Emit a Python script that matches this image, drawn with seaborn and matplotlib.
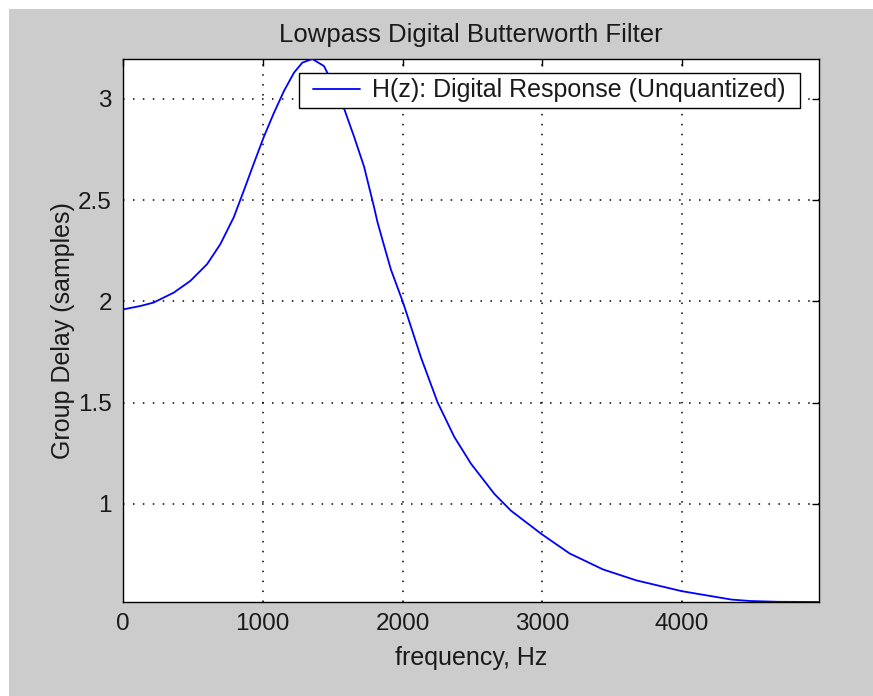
import numpy as np
import pandas as pd
import seaborn as sns
import matplotlib
matplotlib.use("Agg")
import matplotlib.pyplot as plt
from matplotlib.patches import Rectangle
from matplotlib.path import Path

# Group delay of the lowpass Butterworth design, sampled along frequency (Hz)
freq_hz = [0, 124, 219, 363, 482, 602, 697, 793, 865, 936, 1008, 1080, 1151,
           1223, 1283, 1355, 1438, 1462, 1585, 1653, 1725, 1796, 1821, 1857,
           1916, 2004, 2131, 2251, 2370, 2490, 2657, 2776, 2996, 3195,
           3434, 3672, 3995, 4139, 4354, 4485, 4688, 4980]
group_delay = [1.960, 1.977, 1.994, 2.043, 2.101, 2.184, 2.283, 2.416, 2.548,
               2.681, 2.813, 2.931, 3.038, 3.129, 3.179, 3.197, 3.162, 3.129,
               2.946, 2.814, 2.665, 2.466, 2.391, 2.302, 2.159, 1.994, 1.725,
               1.501, 1.331, 1.198, 1.049, 0.966, 0.850, 0.755, 0.676,
               0.622, 0.569, 0.552, 0.527, 0.520, 0.516, 0.515]

x_ticks = [0, 1000, 2000, 3000, 4000]
y_ticks = [1, 1.5, 2, 2.5, 3]
y_tick_labels = ["1", "1.5", "2", "2.5", "3"]

title_text = "Lowpass Digital Butterworth Filter"
x_label = "frequency, Hz"
y_label = "Group Delay (samples)"
series_name = "H(z): Digital Response (Unquantized)"

sns.set_theme(style="white")
plt.rcParams["font.family"] = ["Liberation Sans", "DejaVu Sans"]

W, H = 873, 696
fig = plt.figure(figsize=(W / 100, H / 100), dpi=100, facecolor="white")
# grey window background inset by a thin white border on the top and left
fig.patches.append(Rectangle((9 / W, 0), 1 - 9 / W, 1 - 9 / H,
                             transform=fig.transFigure, facecolor="#cccccc",
                             edgecolor="none", zorder=-10))

ax = fig.add_axes([123 / W, 1 - 602 / H, (819 - 123) / W, (602 - 59) / H])
ax.set_facecolor("white")

df = pd.DataFrame({"freq": freq_hz, "delay": group_delay})
sns.lineplot(data=df, x="freq", y="delay", ax=ax, color="#0000ff",
             linewidth=1.3, label=series_name, zorder=3)
for ln in ax.get_lines():
    ln.set_solid_joinstyle("round")

ax.set_xlim(0, 4980)
ax.set_ylim(0.515, 3.197)
ax.set_xticks(x_ticks)
ax.set_xticklabels([str(t) for t in x_ticks])
ax.set_yticks(y_ticks)
ax.set_yticklabels(y_tick_labels)

tick_fs = 17.5
fs = 18
text_color = "#1a1a1a"
ax.tick_params(direction="in", length=5, width=1, color="black",
               top=True, right=True, labelsize=tick_fs,
               labelcolor=text_color, pad=8)
for side in ax.spines.values():
    side.set_color("black")
    side.set_linewidth(1.0)
    side.set_visible(True)

ax.grid(True, color="black", linestyle=(0, (1, 5.5)), linewidth=1.1)
ax.set_axisbelow(True)

ax.set_title(title_text, fontsize=18.5, color=text_color, pad=12)
ax.set_xlabel(x_label, fontsize=fs, color=text_color, labelpad=8)
ax.set_ylabel(y_label, fontsize=fs, color=text_color, labelpad=2)


def wide_square(x0, y0, width, height, mutation_size):
    """Square legend frame with extra room at the left and right."""
    extra = 8
    xa, xb = x0 - extra, x0 + width + extra
    ya, yb = y0, y0 + height
    return Path([(xa, ya), (xb, ya), (xb, yb), (xa, yb), (xa, ya)],
                closed=True)


leg = ax.legend(loc="upper right", fontsize=fs, frameon=True, fancybox=False,
                framealpha=1, edgecolor="black", borderpad=0.22,
                handlelength=1.88, handletextpad=0.52,
                bbox_to_anchor=((791.5 - 123) / 696, (602 - 73) / 543),
                borderaxespad=0)
frame = leg.get_frame()
frame.set_boxstyle(wide_square)
frame.set_linewidth(1.0)
leg.set_zorder(5)
for t in leg.get_texts():
    t.set_color(text_color)

fig.savefig("out.png", dpi=100, facecolor=fig.get_facecolor())
